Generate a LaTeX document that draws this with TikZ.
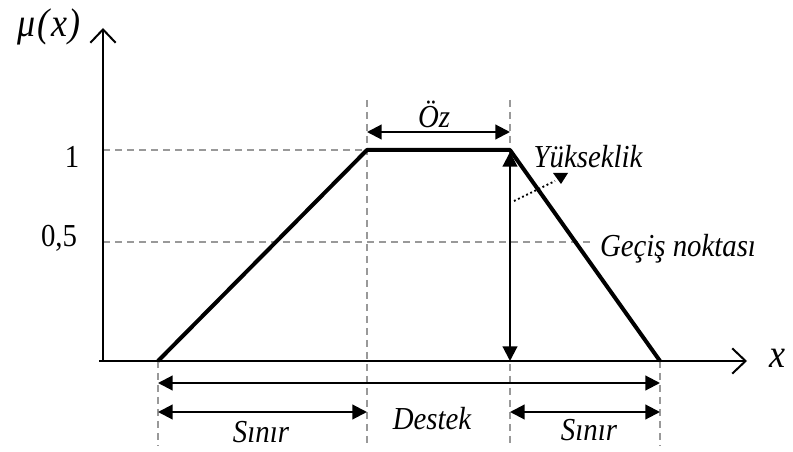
\documentclass[tikz,border=0pt]{standalone}
\usepackage{fontspec}
\setmainfont[FakeStretch=0.9]{Liberation Serif}
\usetikzlibrary{arrows.meta}
\begin{document}
\begin{tikzpicture}[x=0.75pt,y=-0.75pt,
  axisline/.style={line width=1.8pt,-{Straight Barb[length=10pt,width=19pt,line width=1.5pt]}},
  guide/.style={draw=black!40,line width=1.1pt,dash pattern=on 5pt off 4pt},
  trap/.style={line width=3pt,line join=round},
  dim/.style={line width=1.6pt,{Triangle[length=11pt,width=11pt]}-{Triangle[length=11pt,width=11pt]}},
  lab/.style={font=\fontsize{24}{28}\selectfont\itshape,inner sep=0pt},
  biglab/.style={font=\fontsize{30}{34}\selectfont\itshape,inner sep=0pt},
  num/.style={font=\fontsize{24}{28}\selectfont,inner sep=0pt}]
\useasboundingbox (0,0) rectangle (793,452);
% key points
\coordinate (O) at (103,361);
\coordinate (Ytop) at (103,28);
\coordinate (Xend) at (747,361);
\coordinate (A) at (158,361);
\coordinate (B) at (367,150);
\coordinate (C) at (510,150);
\coordinate (D) at (660,361);
\coordinate (Cb) at (510,361);
\coordinate (Y1) at (103,150);
\coordinate (Yh) at (103,242);
\coordinate (Hend) at (592,242);
% guides
\draw[guide] (Y1) -- (B);
\draw[guide] (Yh) -- (Hend);
\coordinate (Bt) at (367,100);
\coordinate (Bb) at (367,446);
\coordinate (Ct) at (510,100);
\coordinate (Cbot) at (510,446);
\coordinate (Ab) at (158,446);
\coordinate (Db) at (660,446);
\draw[guide] (Bt) -- (Bb);
\draw[guide] (Ct) -- (Cbot);
\draw[guide] (A) -- (Ab);
\draw[guide] (D) -- (Db);
% axes
\draw[axisline] (O) -- (Ytop);
\coordinate (Ox) at (99,361);
\draw[axisline] (Ox) -- (Xend);
% trapezoid
\draw[trap] (A) -- (B) -- (C) -- (D);
% height arrow
\coordinate (Ctop) at (510,152);
\draw[dim] (Cb) -- (Ctop);
% Öz arrow
\coordinate (oz1) at (367,132);
\coordinate (oz2) at (510,132);
\draw[dim] (oz1) -- (oz2);
% bottom arrows
\coordinate (d1) at (158,383);
\coordinate (d2) at (660,383);
\draw[dim] (d1) -- (d2);
\coordinate (s1) at (158,412);
\coordinate (s2) at (367,412);
\coordinate (s3) at (510,412);
\coordinate (s4) at (660,412);
\draw[dim] (s1) -- (s2);
\draw[dim] (s3) -- (s4);
% Yükseklik pointer
\coordinate (p1) at (514,201);
\coordinate (p2) at (555,181);
\draw[line width=1.4pt,dotted] (p1) -- (p2);
\fill (553,173) -- (568,173) -- (561,184) -- cycle;
% labels
\node[biglab] (mu) at (49,27) {μ\kern1.5pt(\kern1pt x\kern1pt)};
\node[num] (one) at (72,157) {1};
\node[num] (half) at (59,238) {0,5};
\node[biglab] (xl) at (777,358) {x};
\node[lab] (ozl) at (434,114) {Öz};
\node[lab] (yuk) at (588,157) {Yükseklik};
\node[lab] (gec) at (678,249) {Geçiş noktası};
\node[lab] (sin1) at (261,432) {Sınır};
\node[lab] (des) at (432,419) {Destek};
\node[lab] (sin2) at (589,430) {Sınır};
\end{tikzpicture}
\end{document}
